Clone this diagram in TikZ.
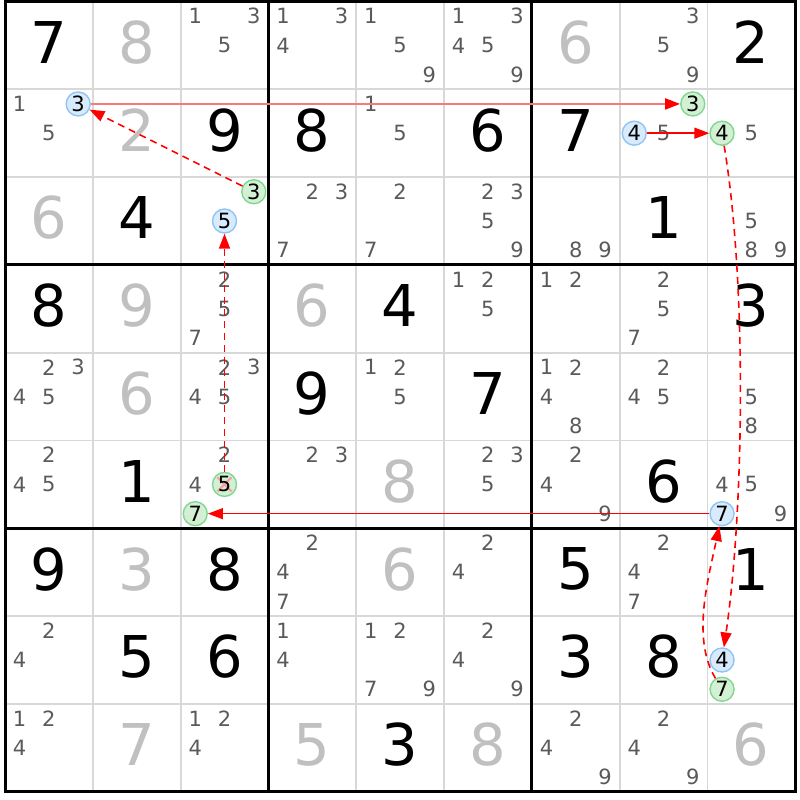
\documentclass[tikz,border=0pt]{standalone}
\usepackage{fontspec}
\setmainfont{DejaVu Sans}
\usetikzlibrary{arrows.meta,calc}
\definecolor{solvedgray}{HTML}{C0C0C0}
\definecolor{candgray}{HTML}{5A5A5A}
\definecolor{gridgray}{HTML}{D8D8D8}
\definecolor{bluefill}{HTML}{D8EBFC}
\definecolor{bluedraw}{HTML}{90C4F4}
\definecolor{greenfill}{HTML}{D4F0D4}
\definecolor{greendraw}{HTML}{80D890}
\definecolor{xpink}{HTML}{F4A0A0}
\definecolor{linkred}{HTML}{FF0000}
\definecolor{lightred}{HTML}{F67A7A}
\newcommand\CS{87.8}
\newcommand\GX{5}
\newcommand\GY{1.5}
\tikzset{
  given/.style={inner sep=0pt, font=\fontsize{57.6}{60}\selectfont, text=black},
  solved/.style={given, text=solvedgray},
  cand/.style={inner sep=0pt, font=\fontsize{21}{23}\selectfont, text=candgray},
  blueball/.style={circle, minimum size=24pt, inner sep=0pt, draw=bluedraw, fill=bluefill, line width=1.4pt, font=\fontsize{21}{23}\selectfont, text=black},
  greenball/.style={blueball, draw=greendraw, fill=greenfill},
  crossed/.style={path picture={\draw[xpink, line width=2pt]
      ([xshift=5pt,yshift=5pt]path picture bounding box.south west) -- ([xshift=-5pt,yshift=-5pt]path picture bounding box.north east)
      ([xshift=5pt,yshift=-5pt]path picture bounding box.north west) -- ([xshift=-5pt,yshift=5pt]path picture bounding box.south east);}},
  strong/.style={color=linkred, line width=1.5pt, -{Triangle[length=15pt,width=11pt]}},
  weak/.style={strong, line width=1.6pt, dash pattern=on 7pt off 5pt},
}
% value in cell
\newcommand\GV[4]{\node[#1] (v#2#3) at ({\GX+(#3+0.5)*\CS},{\GY+(#2+0.5)*\CS-3}) {#4};}
% candidates
\newcommand\CD[3]{\foreach \n in {#3}{\node[cand] (k#1#2\n) at ({\GX+#2*\CS+\CS/6+mod(\n-1,3)*\CS/3},{\GY+#1*\CS+\CS/6+floor((\n-1)/3)*\CS/3}) {\n};}}
% circled candidate: style, name, row, col, digit
\newcommand\BL[5]{\node[#1] (#2) at ({\GX+#4*\CS+\CS/6+mod(#5-1,3)*\CS/3},{\GY+#3*\CS+\CS/6+floor((#5-1)/3)*\CS/3}) {#5};}
\begin{document}
\begin{tikzpicture}[x=1pt,y=-1pt]
\fill[white] (0,0) rectangle (800,800);
\useasboundingbox (0,0) rectangle (800,800);
% grid
\foreach \i in {1,2,4,5,7,8}{
  \draw[gridgray, line width=1.8pt] ({\GX+\i*\CS},\GY) -- ({\GX+\i*\CS},{\GY+9*\CS});
  \draw[gridgray, line width=1.8pt] (\GX,{\GY+\i*\CS}) -- ({\GX+9*\CS},{\GY+\i*\CS});
}
\foreach \i in {3,6}{
  \draw[black, line width=3pt] ({\GX+\i*\CS},\GY) -- ({\GX+\i*\CS},{\GY+9*\CS});
  \draw[black, line width=3pt] (\GX,{\GY+\i*\CS}) -- ({\GX+9*\CS},{\GY+\i*\CS});
}
\draw[black, line width=3pt] (\GX,\GY) rectangle ({\GX+9*\CS},{\GY+9*\CS});
% row 0
\GV{given}{0}{0}{7} \GV{solved}{0}{1}{8} \CD{0}{2}{1,3,5} \CD{0}{3}{1,3,4} \CD{0}{4}{1,5,9}
\CD{0}{5}{1,3,4,5,9} \GV{solved}{0}{6}{6} \CD{0}{7}{3,5,9} \GV{given}{0}{8}{2}
% row 1
\CD{1}{0}{1,5} \BL{blueball}{A}{1}{0}{3} \GV{solved}{1}{1}{2} \GV{given}{1}{2}{9} \GV{given}{1}{3}{8}
\CD{1}{4}{1,5} \GV{given}{1}{5}{6} \GV{given}{1}{6}{7}
\CD{1}{7}{5} \BL{greenball}{B}{1}{7}{3} \BL{blueball}{D}{1}{7}{4}
\CD{1}{8}{5} \BL{greenball}{E}{1}{8}{4}
% row 2
\GV{solved}{2}{0}{6} \GV{given}{2}{1}{4} \BL{greenball}{C}{2}{2}{3} \BL{blueball}{K}{2}{2}{5}
\CD{2}{3}{2,3,7} \CD{2}{4}{2,7} \CD{2}{5}{2,3,5,9} \CD{2}{6}{8,9} \GV{given}{2}{7}{1} \CD{2}{8}{5,8,9}
% row 3
\GV{given}{3}{0}{8} \GV{solved}{3}{1}{9} \CD{3}{2}{2,5,7} \GV{solved}{3}{3}{6} \GV{given}{3}{4}{4}
\CD{3}{5}{1,2,5} \CD{3}{6}{1,2} \CD{3}{7}{2,5,7} \GV{given}{3}{8}{3}
% row 4
\CD{4}{0}{2,3,4,5} \GV{solved}{4}{1}{6} \CD{4}{2}{2,3,4,5} \GV{given}{4}{3}{9} \CD{4}{4}{1,2,5}
\GV{given}{4}{5}{7} \CD{4}{6}{1,2,4,8} \CD{4}{7}{2,4,5} \CD{4}{8}{5,8}
% row 5
\CD{5}{0}{2,4,5} \GV{given}{5}{1}{1} \CD{5}{2}{2,4} \BL{greenball,crossed}{J}{5}{2}{5} \BL{greenball}{I}{5}{2}{7}
\CD{5}{3}{2,3} \GV{solved}{5}{4}{8} \CD{5}{5}{2,3,5} \CD{5}{6}{2,4,9} \GV{given}{5}{7}{6}
\CD{5}{8}{4,5,9} \BL{blueball}{H}{5}{8}{7}
% row 6
\GV{given}{6}{0}{9} \GV{solved}{6}{1}{3} \GV{given}{6}{2}{8} \CD{6}{3}{2,4,7} \GV{solved}{6}{4}{6}
\CD{6}{5}{2,4} \GV{given}{6}{6}{5} \CD{6}{7}{2,4,7} \GV{given}{6}{8}{1}
% row 7
\CD{7}{0}{2,4} \GV{given}{7}{1}{5} \GV{given}{7}{2}{6} \CD{7}{3}{1,4} \CD{7}{4}{1,2,7,9}
\CD{7}{5}{2,4,9} \GV{given}{7}{6}{3} \GV{given}{7}{7}{8} \BL{blueball}{F}{7}{8}{4} \BL{greenball}{G}{7}{8}{7}
% row 8
\CD{8}{0}{1,2,4} \GV{solved}{8}{1}{7} \CD{8}{2}{1,2,4} \GV{solved}{8}{3}{5} \GV{given}{8}{4}{3}
\GV{solved}{8}{5}{8} \CD{8}{6}{2,4,9} \CD{8}{7}{2,4,9} \GV{solved}{8}{8}{6}
% links
\draw[strong, color=lightred, line width=2.2pt, -{Triangle[length=15pt,width=11pt,color=linkred]}] (A) -- (B);
\draw[weak] (C) -- (A);
\draw[strong] (D) -- (E);
\draw[weak] (E) .. controls ($(E)+(25,150)$) and ($(F)+(22,-150)$) .. (F);
\draw[weak] (G) .. controls ($(G)+(-30,-50)$) and ($(H)+(-15,70)$) .. (H);
\draw[strong] (H) -- (I);
\draw[weak] (J) -- (K);
\end{tikzpicture}
\end{document}
